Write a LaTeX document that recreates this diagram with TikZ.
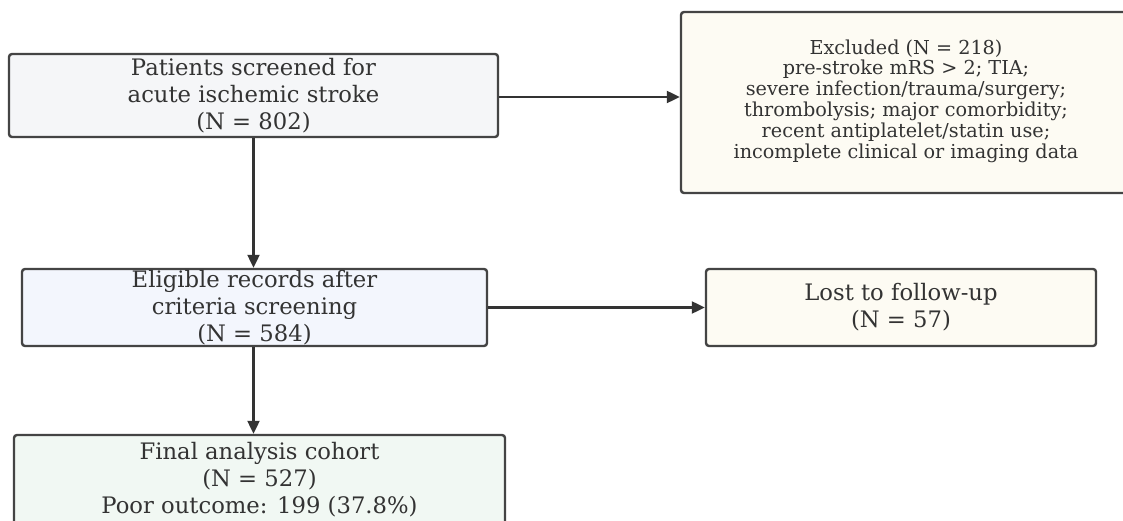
\documentclass[tikz,border=0pt]{standalone}
\usepackage{fontspec}
\setmainfont{DejaVu Serif}
\usetikzlibrary{arrows.meta}
\definecolor{edge}{HTML}{444444}
\definecolor{arr}{HTML}{333333}
\definecolor{txtc}{HTML}{333333}
\definecolor{fgray}{HTML}{F5F6F8}
\definecolor{fblue}{HTML}{F3F6FD}
\definecolor{fcream}{HTML}{FDFBF3}
\definecolor{fgreen}{HTML}{F1F8F3}
\tikzset{
  box/.style={draw=edge, line width=2.4pt, rounded corners=3pt, inner sep=0pt},
  txt/.style={align=center, text=txtc, font=\fontsize{22.7}{27}\selectfont, inner sep=0pt},
  smalltxt/.style={align=center, text=txtc, font=\fontsize{19.2}{20.8}\selectfont, inner sep=0pt},
  conn/.style={draw=arr, line width=2.2pt, -{Triangle[length=13pt,width=12pt]}}
}
\begin{document}
\begin{tikzpicture}[x=1pt,y=1pt]
\useasboundingbox (0,0) rectangle (1123,-521);
\fill[white] (0,0) rectangle (1123,-521);
\clip (0,0) rectangle (1123,-521);
% boxes
\node[box, fill=fgray, minimum width=489pt, minimum height=83pt] (b1) at (253.5,-95.5) {};
\node[txt] (t1) at (b1.center) {Patients screened for\\acute ischemic stroke\\(N = 802)};
\node[box, fill=fcream, minimum width=452pt, minimum height=181pt] (ex) at (907,-102.5) {};
\node[smalltxt] (tex) at (906,-101) {Excluded (N = 218)\\pre-stroke mRS > 2; TIA;\\severe infection/trauma/surgery;\\thrombolysis; major comorbidity;\\recent antiplatelet/statin use;\\incomplete clinical or imaging data};
\node[box, fill=fblue, minimum width=465pt, minimum height=77pt] (b2) at (254.5,-307.5) {};
\node[txt] (t2) at (b2.center) {Eligible records after\\criteria screening\\(N = 584)};
\node[box, fill=fcream, minimum width=390pt, minimum height=77pt] (lost) at (901,-307.5) {};
\node[txt] (tl) at (lost.center) {Lost to follow-up\\(N = 57)};
\node[box, fill=fgreen, minimum width=491pt, minimum height=120pt] (fin) at (259.5,-495) {};
\node[txt] (tf) at (259.5,-480) {Final analysis cohort\\(N = 527)\\Poor outcome: 199 (37.8\%)};
% connectors
\draw[conn] ([yshift=-1.5pt]b1.east) -- ([yshift=-1.5pt]b1.east -| ex.west);
\draw[conn] (b1.south) -- (b1.south |- b2.north);
\draw[conn] (b2.east) -- (b2.east -| lost.west);
\draw[conn] (b2.south -| b1.south) -- (b1.south |- fin.north);
\end{tikzpicture}
\end{document}
